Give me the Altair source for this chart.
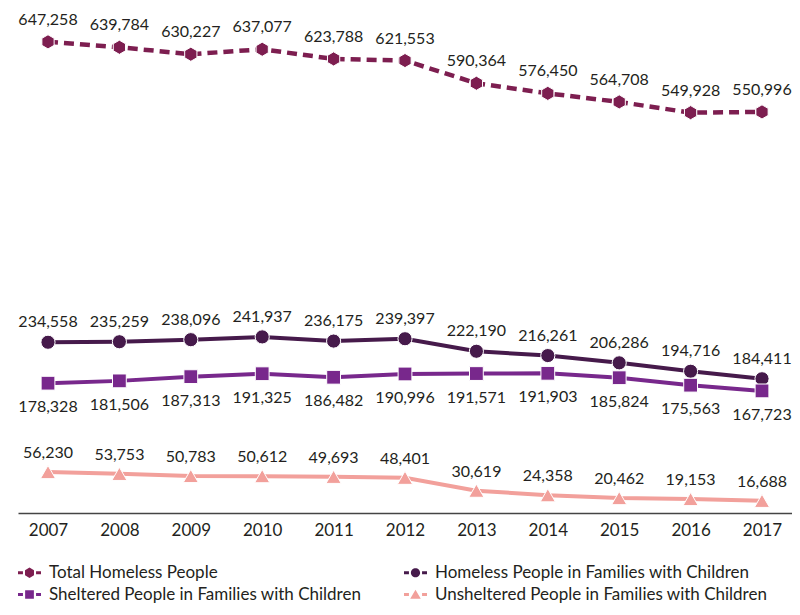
import altair as alt
import pandas as pd

years = list(range(2007, 2018))
total = [647258, 639784, 630227, 637077, 623788, 621553, 590364, 576450, 564708, 549928, 550996]
families = [234558, 235259, 238096, 241937, 236175, 239397, 222190, 216261, 206286, 194716, 184411]
sheltered = [178328, 181506, 187313, 191325, 186482, 190996, 191571, 191903, 185824, 175563, 167723]
unsheltered = [56230, 53753, 50783, 50612, 49693, 48401, 30619, 24358, 20462, 19153, 16688]

series_names = [
    "Total Homeless People",
    "Homeless People in Families with Children",
    "Sheltered People in Families with Children",
    "Unsheltered People in Families with Children",
]
colors = ["#7d1e50", "#461a4b", "#78288c", "#f2a09b"]

hexagon = "M0,-1 L0.866,-0.5 L0.866,0.5 L0,1 L-0.866,0.5 L-0.866,-0.5 Z"
marker_shapes = [hexagon, "circle", "square", "triangle-up"]
marker_sizes = [200, 200, 190, 230]
label_dy = [-22, -20, 24, -19]

dash_l = "M-1,-0.13 L-0.57,-0.13 L-0.57,0.13 L-1,0.13 Z "
dash_r = "M0.57,-0.13 L1,-0.13 L1,0.13 L0.57,0.13 Z "
legend_paths = [
    dash_l + dash_r + "M0,-0.45 L0.39,-0.225 L0.39,0.225 L0,0.45 L-0.39,0.225 L-0.39,-0.225 Z",
    dash_l + dash_r + "M-0.4,0 A0.4,0.4 0 1,0 0.4,0 A0.4,0.4 0 1,0 -0.4,0 Z",
    dash_l + dash_r + "M-0.38,-0.38 L0.38,-0.38 L0.38,0.38 L-0.38,0.38 Z",
    dash_l + dash_r + "M0,-0.42 L0.46,0.36 L-0.46,0.36 Z",
]

rows = []
for name, vals in zip(series_names, [total, families, sheltered, unsheltered]):
    for yr, v in zip(years, vals):
        rows.append({"year": yr, "value": v, "series": name})
df = pd.DataFrame(rows)

FONT = "Lato"
TXT = "#231f20"

x = alt.X(
    "year:Q",
    scale=alt.Scale(domain=[2006.5798, 2017.4201], nice=False, zero=False),
    axis=alt.Axis(
        values=years, format="d", title=None, ticks=False, grid=False,
        labelFontSize=17, labelFont=FONT, labelColor=TXT, labelPadding=9,
        domainColor="#444444", domainWidth=1.5, labelFlush=False,
    ),
)
y = alt.Y("value:Q", scale=alt.Scale(domain=[0, 680000], nice=False), axis=None)

layers = []
for i, name in enumerate(series_names):
    base = alt.Chart(df).transform_filter(alt.datum.series == name)
    line_kw = dict(color=colors[i], strokeWidth=4)
    if i == 0:
        line_kw["strokeDash"] = [10, 6]
        line_kw["strokeWidth"] = 4.5
    layers.append(base.mark_line(**line_kw).encode(x=x, y=y))
for i, name in enumerate(series_names):
    base = alt.Chart(df).transform_filter(alt.datum.series == name)
    layers.append(
        base.mark_point(
            shape=marker_shapes[i], filled=True, fill=colors[i], opacity=1,
            size=marker_sizes[i], stroke="white", strokeWidth=1,
        ).encode(x=x, y=y)
    )
for i, name in enumerate(series_names):
    base = alt.Chart(df).transform_filter(alt.datum.series == name)
    layers.append(
        base.mark_text(dy=label_dy[i], fontSize=16, font=FONT, color=TXT).encode(
            x=x, y=y, text=alt.Text("value:Q", format=",")
        )
    )

leg_kw = dict(
    title=None, orient="none", legendX=0, legendY=543, columns=2, direction="horizontal",
    symbolSize=529, symbolStrokeWidth=0, labelFontSize=17, labelFont=FONT,
    labelColor=TXT, labelOffset=8, labelLimit=0, columnPadding=42, rowPadding=2,
    symbolOpacity=1,
)
legend_layer = (
    alt.Chart(df)
    .transform_filter("false")
    .mark_point(filled=True, opacity=1, size=529)
    .encode(
        color=alt.Color("series:N", scale=alt.Scale(domain=series_names, range=colors), legend=alt.Legend(**leg_kw)),
        shape=alt.Shape("series:N", scale=alt.Scale(domain=series_names, range=legend_paths), legend=alt.Legend(**leg_kw)),
    )
)
layers.append(legend_layer)

chart = (
    alt.layer(*layers)
    .properties(
        width=774, height=495,
        padding={"left": 10, "top": 10, "right": 0, "bottom": 94},
        autosize=alt.AutoSizeParams(type="none"),
    )
    .configure_view(stroke=None)
)

chart.save("out.html", embed_options={"renderer": "svg", "actions": False})
